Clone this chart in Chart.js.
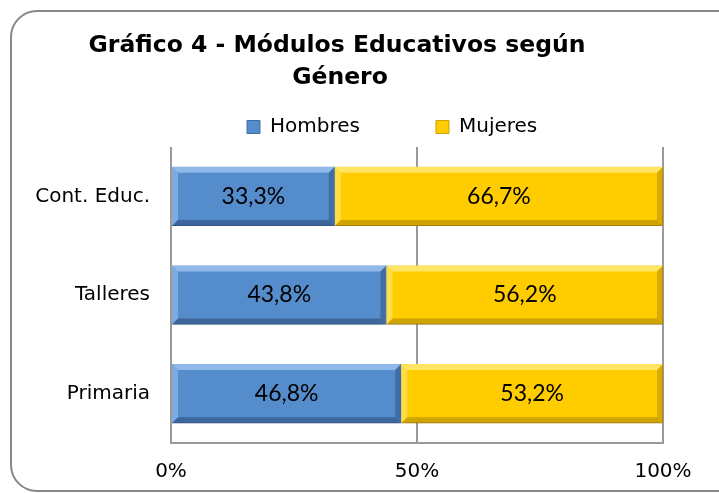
<!DOCTYPE html>
<html>
<head>
<meta charset="utf-8">
<script src="https://cdn.jsdelivr.net/npm/chart.js@4/dist/chart.umd.min.js"></script>
<style>
    body { margin: 0; background: #fff; }
    #wrap { position: relative; width: 719px; height: 493px; }
</style>
</head>
<body>
<div id="wrap">
    <canvas id="chart" width="719" height="493"></canvas>
</div>
<script>
const TITLE_LINES = ['Gráfico 4 - Módulos Educativos según', 'Género'];
const CATEGORIES = ['Cont. Educ.', 'Talleres', 'Primaria'];
const HOMBRES = [33.3, 43.8, 46.8];
const MUJERES = [66.7, 56.2, 53.2];
const SERIES_NAMES = ['Hombres', 'Mujeres'];
const X_TICKS = [0, 50, 100];

const FONT = '"DejaVu Sans", sans-serif';
const VALUE_FONT = 'Lato, sans-serif';

function pct(v) {
    return v.toFixed(1).replace('.', ',') + '%';
}

// outer rounded frame
const framePlugin = {
    id: 'frame',
    beforeDraw(chart) {
        const ctx = chart.ctx;
        ctx.save();
        ctx.strokeStyle = '#878787';
        ctx.lineWidth = 2;
        ctx.beginPath();
        ctx.roundRect(11, 11, 760, 480, 26);
        ctx.stroke();
        ctx.restore();
    }
};

// title, drawn off-centre like the original
const titlePlugin = {
    id: 'offTitle',
    afterDraw(chart) {
        const ctx = chart.ctx;
        ctx.save();
        ctx.fillStyle = '#000';
        ctx.font = 'bold 23.5px ' + FONT;
        ctx.textAlign = 'center';
        ctx.textBaseline = 'middle';
        ctx.fillText(TITLE_LINES[0], 337, 46);
        ctx.fillText(TITLE_LINES[1], 340, 78);
        ctx.restore();
    }
};

// shadow under bars
const shadowPlugin = {
    id: 'barShadow',
    beforeDatasetsDraw(chart) {
        const ctx = chart.ctx;
        ctx.save();
        ctx.shadowColor = 'rgba(0,0,0,0.3)';
        ctx.shadowBlur = 7;
        ctx.shadowOffsetY = 5;
    },
    afterDatasetsDraw(chart) {
        chart.ctx.restore();
    }
};

// bevel edges + value labels
const BEVEL = [
    {light: 'rgba(150,190,235,0.9)', dark: 'rgba(50,85,135,0.7)'},
    {light: 'rgba(255,232,110,0.9)', dark: 'rgba(175,135,0,0.6)'}
];

const bevelPlugin = {
    id: 'bevel',
    afterDatasetsDraw(chart) {
        const ctx = chart.ctx;
        const b = 6;
        chart.data.datasets.forEach((ds, di) => {
            const meta = chart.getDatasetMeta(di);
            meta.data.forEach((el, i) => {
                const left = Math.min(el.base, el.x);
                const right = Math.max(el.base, el.x);
                const top = el.y - el.height / 2;
                const bottom = el.y + el.height / 2;
                const c = BEVEL[di];
                ctx.save();
                // top
                ctx.fillStyle = c.light;
                ctx.beginPath();
                ctx.moveTo(left, top); ctx.lineTo(right, top);
                ctx.lineTo(right - b, top + b); ctx.lineTo(left + b, top + b);
                ctx.closePath(); ctx.fill();
                // left
                ctx.globalAlpha = 0.7;
                ctx.beginPath();
                ctx.moveTo(left, top); ctx.lineTo(left + b, top + b);
                ctx.lineTo(left + b, bottom - b); ctx.lineTo(left, bottom);
                ctx.closePath(); ctx.fill();
                ctx.globalAlpha = 1;
                // bottom
                ctx.fillStyle = c.dark;
                ctx.beginPath();
                ctx.moveTo(left, bottom); ctx.lineTo(right, bottom);
                ctx.lineTo(right - b, bottom - b); ctx.lineTo(left + b, bottom - b);
                ctx.closePath(); ctx.fill();
                // right
                ctx.globalAlpha = 0.8;
                ctx.beginPath();
                ctx.moveTo(right, top); ctx.lineTo(right - b, top + b);
                ctx.lineTo(right - b, bottom - b); ctx.lineTo(right, bottom);
                ctx.closePath(); ctx.fill();
                ctx.globalAlpha = 1;

                // value
                ctx.fillStyle = '#000';
                ctx.font = '23px ' + VALUE_FONT;
                ctx.textAlign = 'center';
                ctx.textBaseline = 'middle';
                ctx.fillText(pct(ds.data[i]), (left + right) / 2, el.y);
                ctx.restore();
            });
        });
    }
};

const ctx = document.getElementById('chart').getContext('2d');

const myChart = new Chart(ctx, {
    type: 'bar',
    data: {
        labels: CATEGORIES,
        datasets: [{
            label: SERIES_NAMES[0],
            data: HOMBRES,
            backgroundColor: '#558ccb',
            borderColor: '#41709f',
            borderWidth: 1
        }, {
            label: SERIES_NAMES[1],
            data: MUJERES,
            backgroundColor: '#ffcc00',
            borderColor: '#c9a100',
            borderWidth: 1
        }]
    },
    options: {
        indexAxis: 'y',
        responsive: false,
        animation: false,
        devicePixelRatio: 1,
        layout: {
            padding: {left: 10, right: 56, top: 41, bottom: 0}
        },
        categoryPercentage: 1,
        barPercentage: 0.6,
        scales: {
            x: {
                stacked: true,
                min: 0,
                max: 100,
                afterBuildTicks(scale) {
                    scale.ticks = X_TICKS.map(v => ({value: v}));
                },
                afterFit(scale) {
                    scale.height = 50;
                },
                ticks: {
                    callback: v => v + '%',
                    color: '#000',
                    padding: 17,
                    maxRotation: 0,
                    font: {family: FONT, size: 20}
                },
                grid: {
                    color: '#9a9a9a',
                    lineWidth: 2,
                    drawTicks: false
                },
                border: {display: true, color: '#9a9a9a', width: 2}
            },
            y: {
                stacked: true,
                afterFit(scale) {
                    scale.width = 161;
                },
                ticks: {
                    color: '#000',
                    padding: 21,
                    font: {family: FONT, size: 20}
                },
                grid: {display: false, drawTicks: false},
                border: {display: false}
            }
        },
        plugins: {
            legend: {
                position: 'top',
                fullSize: false,
                align: 'start',
                labels: {
                    boxWidth: 13,
                    boxHeight: 13,
                    padding: 76,
                    color: '#000',
                    font: {family: FONT, size: 20}
                }
            },
            tooltip: {enabled: false}
        }
    },
    plugins: [framePlugin, shadowPlugin, bevelPlugin, titlePlugin]
});
</script>
</body>
</html>
